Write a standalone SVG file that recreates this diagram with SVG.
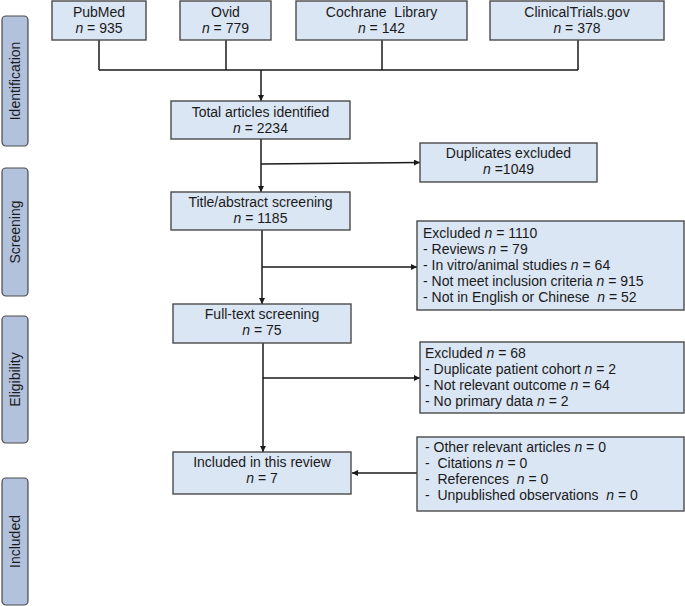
<svg xmlns="http://www.w3.org/2000/svg" width="685" height="606" viewBox="0 0 685 606">
<style>
  text { font-family: "Liberation Sans", Arial, sans-serif; font-size: 14px; fill: #1a1a1a; }
  .box { fill: #dae6f4; stroke: #4a4a4a; stroke-width: 1.4; }
  .band { fill: #b2c1dc; stroke: #4a4a4a; stroke-width: 1.2; }
  .c { text-anchor: middle; }
  .pre { white-space: pre; }
  .n { font-style: italic; }
  .conn { fill: none; stroke: #1a1a1a; stroke-width: 1.5; }
</style>
<defs>
  <marker id="ah" viewBox="0 0 10 10" refX="10" refY="5" markerWidth="6" markerHeight="6" markerUnits="userSpaceOnUse" orient="auto">
    <path d="M0,0 L10,5 L0,10 Z" fill="#1a1a1a"/>
  </marker>
</defs>

<g id="band-identification">
  <rect class="band" x="2" y="16" width="26" height="130" rx="4"/>
  <text class="c" transform="translate(20,81) rotate(-90)">Identification</text>
</g>
<g id="band-screening">
  <rect class="band" x="2" y="168" width="26" height="128" rx="4"/>
  <text class="c" transform="translate(20,232) rotate(-90)">Screening</text>
</g>
<g id="band-eligibility">
  <rect class="band" x="2" y="316" width="26" height="127" rx="4"/>
  <text class="c" transform="translate(20,379.5) rotate(-90)">Eligibility</text>
</g>
<g id="band-included">
  <rect class="band" x="2" y="478" width="26" height="127" rx="4"/>
  <text class="c" transform="translate(20,541.5) rotate(-90)">Included</text>
</g>

<g id="connectors">
  <path class="conn" d="M99,40 V70 M226,40 V70 M382,40 V70 M578,40 V70 M99,70 H578"/>
  <path class="conn" d="M261,70 V101" marker-end="url(#ah)"/>
  <path class="conn" d="M261,139 V192" marker-end="url(#ah)"/>
  <path class="conn" d="M261,164 L420,162.5" marker-end="url(#ah)"/>
  <path class="conn" d="M262,230 V304" marker-end="url(#ah)"/>
  <path class="conn" d="M262,267 H417" marker-end="url(#ah)"/>
  <path class="conn" d="M263,343 V452" marker-end="url(#ah)"/>
  <path class="conn" d="M263,378 H420" marker-end="url(#ah)"/>
  <path class="conn" d="M417,473 H352" marker-end="url(#ah)"/>
</g>

<g id="pubmed">
  <rect class="box" x="52" y="1" width="94" height="39"/>
  <text class="c" x="99" y="17">PubMed<tspan x="99" dy="16"><tspan class="n">n</tspan> = 935</tspan></text>
</g>
<g id="ovid">
  <rect class="box" x="180" y="1" width="91" height="39"/>
  <text class="c" x="225.5" y="17">Ovid<tspan x="225.5" dy="16"><tspan class="n">n</tspan> = 779</tspan></text>
</g>
<g id="cochrane">
  <rect class="box" x="296" y="1" width="171" height="39"/>
  <text class="c pre" x="381.5" y="17">Cochrane  Library<tspan x="381.5" dy="16"><tspan class="n">n</tspan> = 142</tspan></text>
</g>
<g id="clinicaltrials">
  <rect class="box" x="490" y="1" width="174" height="39"/>
  <text class="c" x="577" y="17">ClinicalTrials.gov<tspan x="577" dy="16"><tspan class="n">n</tspan> = 378</tspan></text>
</g>

<g id="total">
  <rect class="box" x="171" y="101" width="179" height="38"/>
  <text class="c" x="260.5" y="116.5">Total articles identified<tspan x="260.5" dy="16"><tspan class="n">n</tspan> = 2234</tspan></text>
</g>
<g id="duplicates">
  <rect class="box" x="420" y="143" width="177" height="39"/>
  <text class="c" x="508.5" y="157.5">Duplicates excluded<tspan x="508.5" dy="16"><tspan class="n">n</tspan> =1049</tspan></text>
</g>
<g id="title-abstract">
  <rect class="box" x="171" y="192" width="179" height="38"/>
  <text class="c" x="260.5" y="206.5">Title/abstract screening<tspan x="260.5" dy="16"><tspan class="n">n</tspan> = 1185</tspan></text>
</g>
<g id="excluded-1110">
  <rect class="box" x="417" y="221" width="267" height="89"/>
  <text class="pre" x="423" y="237.5">Excluded <tspan class="n">n</tspan> = 1110<tspan x="423" dy="16">- Reviews <tspan class="n">n</tspan> = 79</tspan><tspan x="423" dy="16">- In vitro/animal studies <tspan class="n">n</tspan> = 64</tspan><tspan x="423" dy="16">- Not meet inclusion criteria <tspan class="n">n</tspan> = 915</tspan><tspan x="423" dy="16">- Not in English or Chinese  <tspan class="n">n</tspan> = 52</tspan></text>
</g>
<g id="full-text">
  <rect class="box" x="173" y="304" width="178" height="39"/>
  <text class="c" x="262" y="319">Full-text screening<tspan x="262" dy="16"><tspan class="n">n</tspan> = 75</tspan></text>
</g>
<g id="excluded-68">
  <rect class="box" x="420" y="342" width="264" height="71"/>
  <text x="425" y="357.5">Excluded <tspan class="n">n</tspan> = 68<tspan x="425" dy="16">- Duplicate patient cohort <tspan class="n">n</tspan> = 2</tspan><tspan x="425" dy="16">- Not relevant outcome <tspan class="n">n</tspan> = 64</tspan><tspan x="425" dy="16">- No primary data <tspan class="n">n</tspan> = 2</tspan></text>
</g>
<g id="included">
  <rect class="box" x="173" y="452" width="178" height="42"/>
  <text class="c" x="262" y="467">Included in this review<tspan x="262" dy="16"><tspan class="n">n</tspan> = 7</tspan></text>
</g>
<g id="other">
  <rect class="box" x="417" y="437" width="267" height="74"/>
  <text class="pre" x="425" y="452">- Other relevant articles <tspan class="n">n</tspan> = 0<tspan x="425" dy="16">-  Citations <tspan class="n">n</tspan> = 0</tspan><tspan x="425" dy="16">-  References  <tspan class="n">n</tspan> = 0</tspan><tspan x="425" dy="16">-  Unpublished observations  <tspan class="n">n</tspan> = 0</tspan></text>
</g>
</svg>
